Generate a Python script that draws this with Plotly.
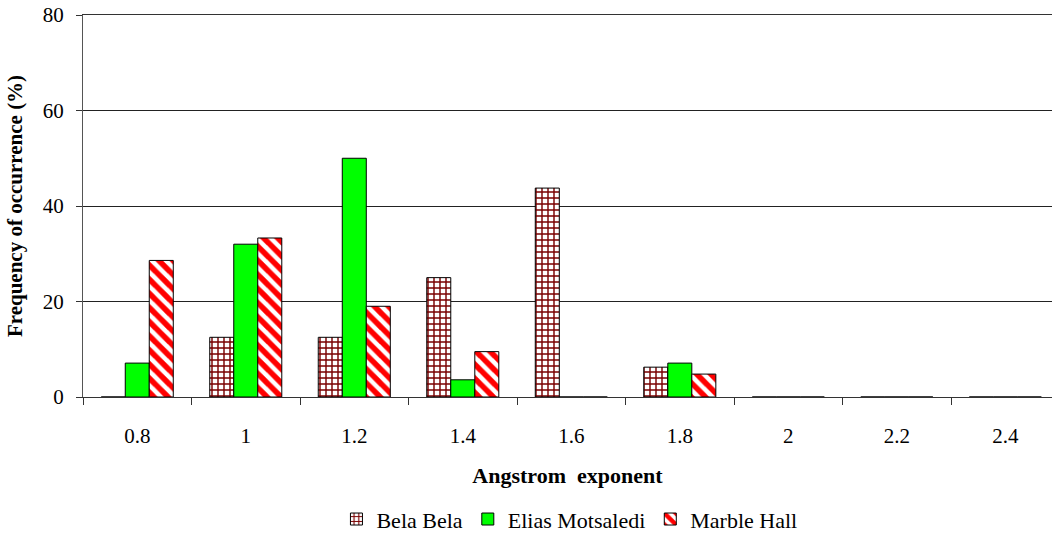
import plotly.graph_objects as go

# Angstrom exponent classes and frequency of occurrence (%) per site
categories = ["0.8", "1", "1.2", "1.4", "1.6", "1.8", "2", "2.2", "2.4"]
bela_bela = [0, 12.5, 12.5, 25.0, 43.75, 6.25, 0, 0, 0]
elias_motsaledi = [7.1, 32.0, 50.0, 3.6, 0, 7.1, 0, 0, 0]
marble_hall = [28.6, 33.3, 19.0, 9.5, 0, 4.8, 0, 0, 0]
y_ticks = [0, 20, 40, 60, 80]

FONT = "Times New Roman, Liberation Serif, DejaVu Serif, serif"

fig = go.Figure()
fig.add_trace(go.Bar(
    name="Bela Bela", x=categories, y=bela_bela,
    marker=dict(color="white", line=dict(color="black", width=1),
                pattern=dict(shape="+", fgcolor="#7A0000", bgcolor="white",
                             size=6, solidity=0.42, fgopacity=1)),
))
fig.add_trace(go.Bar(
    name="Elias Motsaledi", x=categories, y=elias_motsaledi,
    marker=dict(color="#00FF00", line=dict(color="black", width=1)),
))
fig.add_trace(go.Bar(
    name="Marble Hall", x=categories, y=marble_hall,
    marker=dict(color="white", line=dict(color="black", width=1),
                pattern=dict(shape="\\", fgcolor="#FF0000", bgcolor="white",
                             size=10, solidity=0.55, fgopacity=1)),
))

fig.update_layout(
    width=1052, height=546,
    margin=dict(l=83, r=0, t=15, b=149),
    paper_bgcolor="white", plot_bgcolor="white",
    barmode="group", bargap=0.336, bargroupgap=0,
    font=dict(family=FONT, size=21, color="black"),
    showlegend=True,
    legend=dict(orientation="h", x=0.502, xanchor="center", y=-0.265, yanchor="top",
                font=dict(family=FONT, size=22, color="black"),
                itemwidth=30, tracegroupgap=0),
    xaxis=dict(
        type="category", range=[-0.5, 8.43],
        tickson="boundaries", ticks="outside", ticklen=7, tickcolor="#333",
        showline=True, linecolor="#333", linewidth=1, mirror=True,
        showgrid=False,
        ticklabelstandoff=20,
        tickfont=dict(family=FONT, size=21),
        title=dict(text="<b>Angstrom  exponent</b>", standoff=20,
                   font=dict(family=FONT, size=22)),
    ),
    yaxis=dict(
        range=[0, 80], tickvals=y_ticks,
        ticks="outside", ticklen=6, tickcolor="#333",
        showline=True, linecolor="#555", linewidth=1,
        showgrid=True, gridcolor="#222", gridwidth=1,
        zeroline=False,
        ticklabelstandoff=8,
        tickfont=dict(family=FONT, size=21),
        title=dict(text="<b>Frequency of occurrence (%)</b>", standoff=14,
                   font=dict(family=FONT, size=21)),
    ),
)

fig.write_html("out.html")
